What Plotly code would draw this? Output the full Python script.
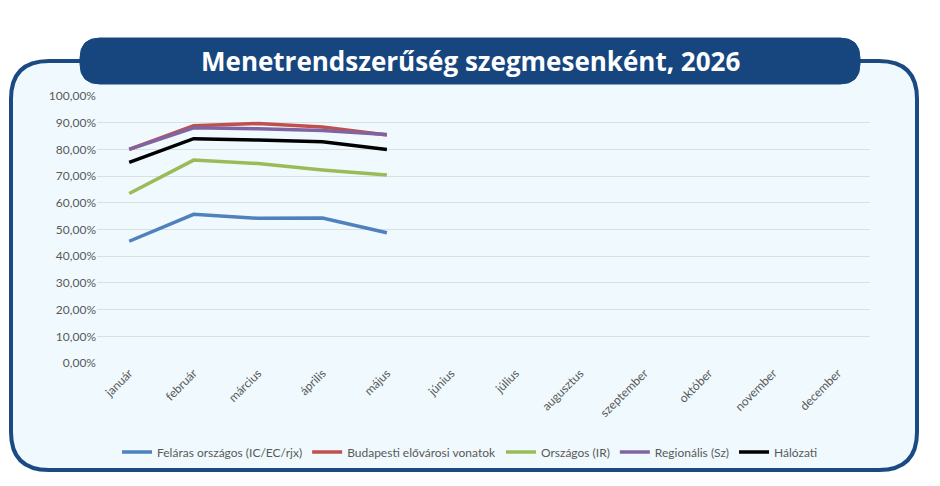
import plotly.graph_objects as go

W, H = 940, 486

months = ["január", "február", "március", "április", "május", "június",
          "július", "augusztus", "szeptember", "október", "november", "december"]

felaras = [0.456, 0.557, 0.542, 0.543, 0.488]
budapesti = [0.800, 0.889, 0.897, 0.884, 0.854]
orszagos = [0.635, 0.760, 0.747, 0.723, 0.704]
regionalis = [0.800, 0.881, 0.877, 0.871, 0.856]
halozati = [0.751, 0.840, 0.835, 0.829, 0.800]

series_names = ["Feláras országos (IC/EC/rjx)", "Budapesti elővárosi vonatok",
                "Országos (IR)", "Regionális (Sz)", "Hálózati"]
series_colors = ["#4F81BD", "#C0504D", "#9BBB59", "#8064A2", "#000000"]
series_values = [felaras, budapesti, orszagos, regionalis, halozati]

y_tickvals = [i / 10 for i in range(11)]
y_ticktext = [f"{i*10},00%" for i in range(11)]

title_text = "Menetrendszerűség szegmesenként, 2026"

fig = go.Figure()
for name, color, vals in zip(series_names, series_colors, series_values):
    fig.add_trace(go.Scatter(
        x=months[:len(vals)], y=vals, mode="lines", name=name,
        line=dict(color=color, width=3.5),
    ))


def px(x):
    return x / W


def py(y):
    return 1 - y / H


def rounded_rect(x0, y0, x1, y1, r):
    pts = [
        f"M {px(x0 + r)},{py(y0)}",
        f"L {px(x1 - r)},{py(y0)}",
        f"Q {px(x1)},{py(y0)} {px(x1)},{py(y0 + r)}",
        f"L {px(x1)},{py(y1 - r)}",
        f"Q {px(x1)},{py(y1)} {px(x1 - r)},{py(y1)}",
        f"L {px(x0 + r)},{py(y1)}",
        f"Q {px(x0)},{py(y1)} {px(x0)},{py(y1 - r)}",
        f"L {px(x0)},{py(y0 + r)}",
        f"Q {px(x0)},{py(y0)} {px(x0 + r)},{py(y0)}",
        "Z",
    ]
    return " ".join(pts)


shapes = [
    dict(type="path", xref="paper", yref="paper", layer="below",
         path=rounded_rect(11, 61, 917, 470, 38),
         fillcolor="#F0F9FD", line=dict(color="#1B4A82", width=4)),
    dict(type="path", xref="paper", yref="paper", layer="above",
         path=rounded_rect(80, 38, 860, 84, 20),
         fillcolor="#17467F", line=dict(color="#17467F", width=1)),
]

fig.update_layout(
    width=W, height=H,
    margin=dict(l=0, r=0, t=0, b=0, autoexpand=False),
    paper_bgcolor="white",
    plot_bgcolor="rgba(0,0,0,0)",
    shapes=shapes,
    font=dict(family="Lato, Open Sans, sans-serif", color="#595959", size=12),
    showlegend=True,
    legend=dict(orientation="h", x=0.5, xanchor="center", y=py(452), yanchor="middle",
                bgcolor="rgba(0,0,0,0)", font=dict(size=12, color="#595959"),
                itemwidth=30, traceorder="normal"),
    annotations=[dict(text=f"<b>{title_text}</b>", xref="paper", yref="paper",
                      x=0.5, y=py(61), xanchor="center", yanchor="middle",
                      showarrow=False,
                      font=dict(family="Open Sans, Lato, sans-serif", size=26, color="white"))],
    xaxis=dict(domain=[px(97), px(870)], type="category", categoryorder="array",
               categoryarray=months, range=[-0.5, 11.5], tickmode="array",
               tickvals=months, ticktext=months, tickangle=-45, automargin=False,
               showgrid=False, zeroline=False, showline=False, ticks="",
               tickfont=dict(size=12, color="#595959")),
    yaxis=dict(domain=[py(363), py(96)], range=[0, 1], tickmode="array",
               tickvals=y_tickvals, ticktext=y_ticktext, showgrid=True, automargin=False,
               gridcolor="#DCDFE2", gridwidth=1, zeroline=False, showline=False,
               ticks="", tickfont=dict(size=12, color="#595959")),
)

fig.write_html("out.html")
